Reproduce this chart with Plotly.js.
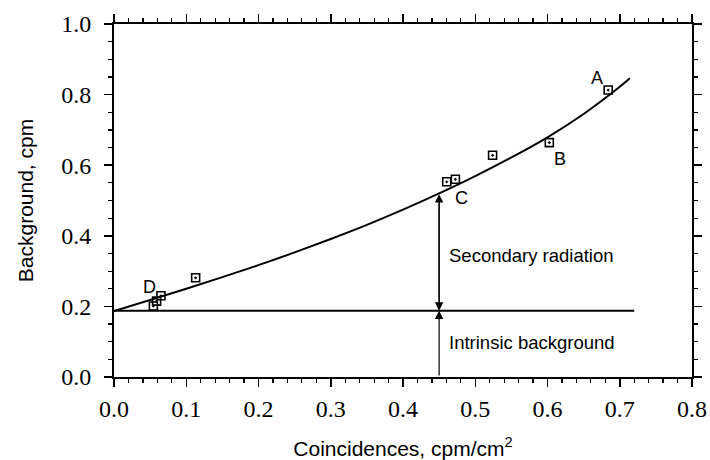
<!DOCTYPE html>
<html>
<head>
<meta charset="utf-8">
<script src="https://cdn.plot.ly/plotly-3.0.1.min.js"></script>
<style>html,body{margin:0;padding:0;background:#fff;}#chart{width:710px;height:460px;}</style>
</head>
<body>
<div id="chart"></div>
<script>
// Measured data points (open squares)
const pointX = [0.0545, 0.059, 0.065, 0.113, 0.4605, 0.4725, 0.524, 0.6025, 0.684];
const pointY = [0.201, 0.215, 0.230, 0.281, 0.553, 0.560, 0.628, 0.664, 0.813];

// Fitted curve
const curveX = [0, 0.05, 0.1, 0.15, 0.2, 0.25, 0.3, 0.35, 0.4, 0.45, 0.5, 0.55, 0.6, 0.65, 0.7, 0.714];
const curveY = [0.187, 0.218, 0.250, 0.283, 0.317, 0.353, 0.391, 0.431, 0.474, 0.520, 0.569, 0.622, 0.679, 0.745, 0.822, 0.846];

// Intrinsic background level
const baseX = [0, 0.72];
const baseY = [0.188, 0.188];

// Point labels
const labelText = ["A", "B", "C", "D"];
const labelX = [0.668, 0.617, 0.481, 0.049];
const labelY = [0.846, 0.617, 0.507, 0.254];

// Arrow position
const arrowX = 0.45;
const arrowTop = 0.518;

const xRange = [0, 0.8];
const yRange = [0, 1.0];

const tickFont = {family: "Liberation Serif, Times New Roman, serif", size: 24, color: "#000"};
const sansFont = {family: "Liberation Sans, Arial, sans-serif", size: 21, color: "#000"};

const traces = [
  {x: curveX, y: curveY, mode: "lines", line: {color: "#000", width: 2, shape: "spline", smoothing: 1}, hoverinfo: "skip"},
  {x: baseX, y: baseY, mode: "lines", line: {color: "#000", width: 2}, hoverinfo: "skip"},
  {x: pointX, y: pointY, mode: "markers",
   marker: {symbol: "square-open-dot", size: 8, color: "#000", line: {width: 1.6, color: "#000"}}},
  {x: xRange, y: yRange, xaxis: "x2", yaxis: "y2", mode: "markers", marker: {opacity: 0}, hoverinfo: "skip"}
];

const annotations = labelText.map((t, i) => ({
  x: labelX[i], y: labelY[i], xref: "x", yref: "y", text: t, showarrow: false,
  font: {family: sansFont.family, size: 18, color: "#000"}
}));

const arrowCommon = {xref: "x", yref: "y", axref: "x", ayref: "y", text: "", showarrow: true,
  arrowhead: 2, arrowsize: 1.4, arrowwidth: 1.2, arrowcolor: "#000", standoff: 0, startstandoff: 0};
annotations.push(Object.assign({}, arrowCommon, {x: arrowX, y: arrowTop, ax: arrowX, ay: baseY[0]}));
annotations.push(Object.assign({}, arrowCommon, {x: arrowX, y: baseY[0], ax: arrowX, ay: arrowTop}));
annotations.push(Object.assign({}, arrowCommon, {x: arrowX, y: baseY[0], ax: arrowX, ay: 0}));

annotations.push({x: 0.461, y: 0.345, xref: "x", yref: "y", xanchor: "left", text: "Secondary radiation",
  showarrow: false, font: {family: sansFont.family, size: 18.5, color: "#000"}});
annotations.push({x: 0.461, y: 0.098, xref: "x", yref: "y", xanchor: "left", text: "Intrinsic background",
  showarrow: false, font: {family: sansFont.family, size: 18.5, color: "#000"}});

const axisCommon = {
  showgrid: false, zeroline: false,
  showline: true, linecolor: "#000", linewidth: 2,
  ticks: "outside", ticklen: 8, tickwidth: 1.5, tickcolor: "#000"
};

const layout = {
  width: 710, height: 460,
  margin: {l: 114, r: 18, t: 24, b: 83},
  paper_bgcolor: "#fff", plot_bgcolor: "#fff",
  showlegend: false,
  xaxis: Object.assign({}, axisCommon, {
    range: xRange, dtick: 0.1, tickformat: ".1f",
    minor: {dtick: 0.02, ticks: "outside", ticklen: 4, tickwidth: 1.2, tickcolor: "#000", showgrid: false},
    tickfont: tickFont, ticklabelstandoff: 1,
    title: {text: "Coincidences, cpm/cm<sup>2</sup>", font: sansFont, standoff: 24}
  }),
  yaxis: Object.assign({}, axisCommon, {
    range: yRange, dtick: 0.2, tickformat: ".1f",
    minor: {dtick: 0.05, ticks: "outside", ticklen: 4, tickwidth: 1.2, tickcolor: "#000", showgrid: false},
    tickfont: tickFont, ticklabelstandoff: 8,
    title: {text: "Background, cpm", font: sansFont, standoff: 22}
  }),
  xaxis2: Object.assign({}, axisCommon, {
    range: xRange, dtick: 0.1, overlaying: "x", side: "top", anchor: "y2", showticklabels: false,
    minor: {dtick: 0.02, ticks: "outside", ticklen: 4, tickwidth: 1.2, tickcolor: "#000", showgrid: false}
  }),
  yaxis2: Object.assign({}, axisCommon, {
    range: yRange, dtick: 0.2, overlaying: "y", side: "right", anchor: "x2", showticklabels: false,
    minor: {dtick: 0.05, ticks: "outside", ticklen: 4, tickwidth: 1.2, tickcolor: "#000", showgrid: false}
  }),
  annotations: annotations
};

Plotly.newPlot("chart", traces, layout, {displayModeBar: false, staticPlot: true});
</script>
</body>
</html>
